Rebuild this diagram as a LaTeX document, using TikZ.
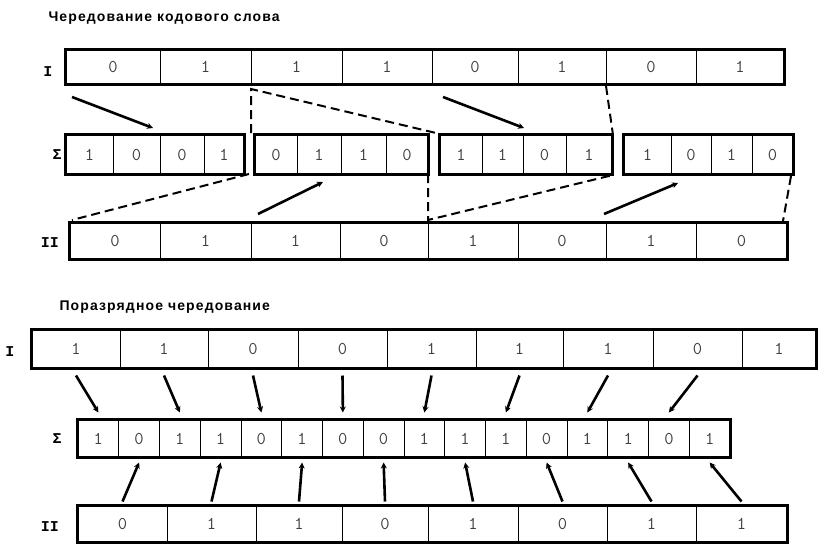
\documentclass[tikz,border=0pt]{standalone}
\usepackage{fontspec}
\setmainfont{Liberation Sans}
\newfontfamily\labfont{Liberation Mono}
\newfontfamily\headfont[LetterSpace=8]{Liberation Sans}
\usetikzlibrary{arrows.meta}

\begin{document}
\begin{tikzpicture}[
  x=1pt, y=-1pt,
  cell/.style={rectangle, draw, line width=1pt, inner sep=0pt,
    font=\ttfamily\fontsize{18}{18}\selectfont, text=black!75},
  frame/.style={draw, line width=2.4pt},
  title/.style={anchor=west, font=\headfont\bfseries\fontsize{14}{14}\selectfont},
  rowlab/.style={font=\labfont\bfseries\fontsize{15}{15}\selectfont},
  arr/.style={-{Stealth[length=6pt,width=6pt]}, line width=2.6pt},
  link/.style={line width=2pt, dash pattern=on 9pt off 5pt}
]
  \useasboundingbox (0,0) rectangle (818,549);

  % Codeword interleaving
  \node[title] (ttl1) at (45,18) {Чередование кодового слова};
  \node[rowlab] (la) at (48,72) {I};
  \node[rowlab] (ls) at (57,155) {Σ};
  \node[rowlab] (lb) at (50,243) {II};

  \foreach \n/\l/\r/\v in {1/66/160/0, 2/160/251/1, 3/251/342/1, 4/342/432/1,
                           5/432/518/0, 6/518/606/1, 7/606/696/0, 8/696/784/1}
    \node[cell, minimum width={\r-\l}, minimum height=34] (a\n) at ({(\l+\r)/2},67) {\v};
  \draw[frame] (a1.north west) rectangle (a8.south east);

  \foreach \n/\l/\r/\v in {1/66/113/1, 2/113/160/0, 3/160/204/0, 4/204/244/1,
                           5/255/297/0, 6/297/341/1, 7/341/386/1, 8/386/428/0,
                           9/440/482/1, 10/482/523/1, 11/523/566/0, 12/566/612/1,
                           13/624/671/1, 14/671/711/0, 15/711/752/1, 16/752/793/0}
    \node[cell, minimum width={\r-\l}, minimum height=39] (s\n) at ({(\l+\r)/2},154.5) {\v};
  \foreach \f/\t in {1/4, 5/8, 9/12, 13/16}
    \draw[frame] (s\f.north west) rectangle (s\t.south east);

  \foreach \n/\l/\r/\v in {1/70/160/0, 2/160/251/1, 3/251/340/1, 4/340/428/0,
                           5/428/518/1, 6/518/606/0, 7/606/696/1, 8/696/787/0}
    \node[cell, minimum width={\r-\l}, minimum height=36] (b\n) at ({(\l+\r)/2},241) {\v};
  \draw[frame] (b1.north west) rectangle (b8.south east);

  \coordinate (u1) at (72,97);   \coordinate (u2) at (153,128);
  \coordinate (u3) at (443,97);  \coordinate (u4) at (524,128);
  \coordinate (u5) at (258,214); \coordinate (u6) at (323,182);
  \coordinate (u7) at (604,214); \coordinate (u8) at (678,183);
  \foreach \f/\t in {u1/u2, u3/u4, u5/u6, u7/u8}
    \draw[arr] (\f) -- (\t);

  \coordinate (k1) at (251,89);  \coordinate (k2) at (251,133);
  \coordinate (k3) at (436,133); \coordinate (k4) at (606,86);
  \coordinate (k5) at (613,135); \coordinate (k6) at (249,174);
  \coordinate (k7) at (72,220);  \coordinate (k8) at (428,174);
  \coordinate (k9) at (428,220); \coordinate (k10) at (613,175);
  \coordinate (k11) at (791,176); \coordinate (k12) at (783,221);
  \draw[link] (k2) -- (k1) -- (k3);
  \draw[link] (k4) -- (k5);
  \draw[link] (k6) -- (k7);
  \draw[link] (k8) -- (k9) -- (k10);
  \draw[link] (k11) -- (k12);

  % Bitwise interleaving
  \node[title] (ttl2) at (56,307) {Поразрядное чередование};
  \node[rowlab] (lp) at (10,352) {I};
  \node[rowlab] (lq) at (57,439) {Σ};
  \node[rowlab] (lr) at (50,527) {II};

  \foreach \n/\l/\r/\v in {1/32/120/1, 2/120/208/1, 3/208/298/0, 4/298/387/0,
                           5/387/476/1, 6/476/563/1, 7/563/653/1, 8/653/742/0, 9/742/816/1}
    \node[cell, minimum width={\r-\l}, minimum height=38] (p\n) at ({(\l+\r)/2},349) {\v};
  \draw[frame] (p1.north west) rectangle (p9.south east);

  \foreach \n/\v in {1/1, 2/0, 3/1, 4/1, 5/0, 6/1, 7/0, 8/0,
                     9/1, 10/1, 11/1, 12/0, 13/1, 14/1, 15/0, 16/1}
    \node[cell, minimum width=40.75, minimum height=37] (q\n) at ({78+40.75*(\n-0.5)},438.5) {\v};
  \draw[frame] (q1.north west) rectangle (q16.south east);

  \foreach \n/\l/\r/\v in {1/78/167/0, 2/167/256/1, 3/256/342/1, 4/342/428/0,
                           5/428/518/1, 6/518/607/0, 7/607/696/1, 8/696/787/1}
    \node[cell, minimum width={\r-\l}, minimum height=36] (r\n) at ({(\l+\r)/2},524) {\v};
  \draw[frame] (r1.north west) rectangle (r8.south east);

  \foreach \i [evaluate=\i as \k using int(2*\i-1)] in {1,...,8}
    \draw[arr] ([yshift=-7pt]p\i.south) -- ([yshift=7pt]q\k.north);
  \foreach \i [evaluate=\i as \k using int(2*\i)] in {1,...,8}
    \draw[arr] ([yshift=4pt]r\i.north) -- ([yshift=-5pt]q\k.south);
\end{tikzpicture}
\end{document}
